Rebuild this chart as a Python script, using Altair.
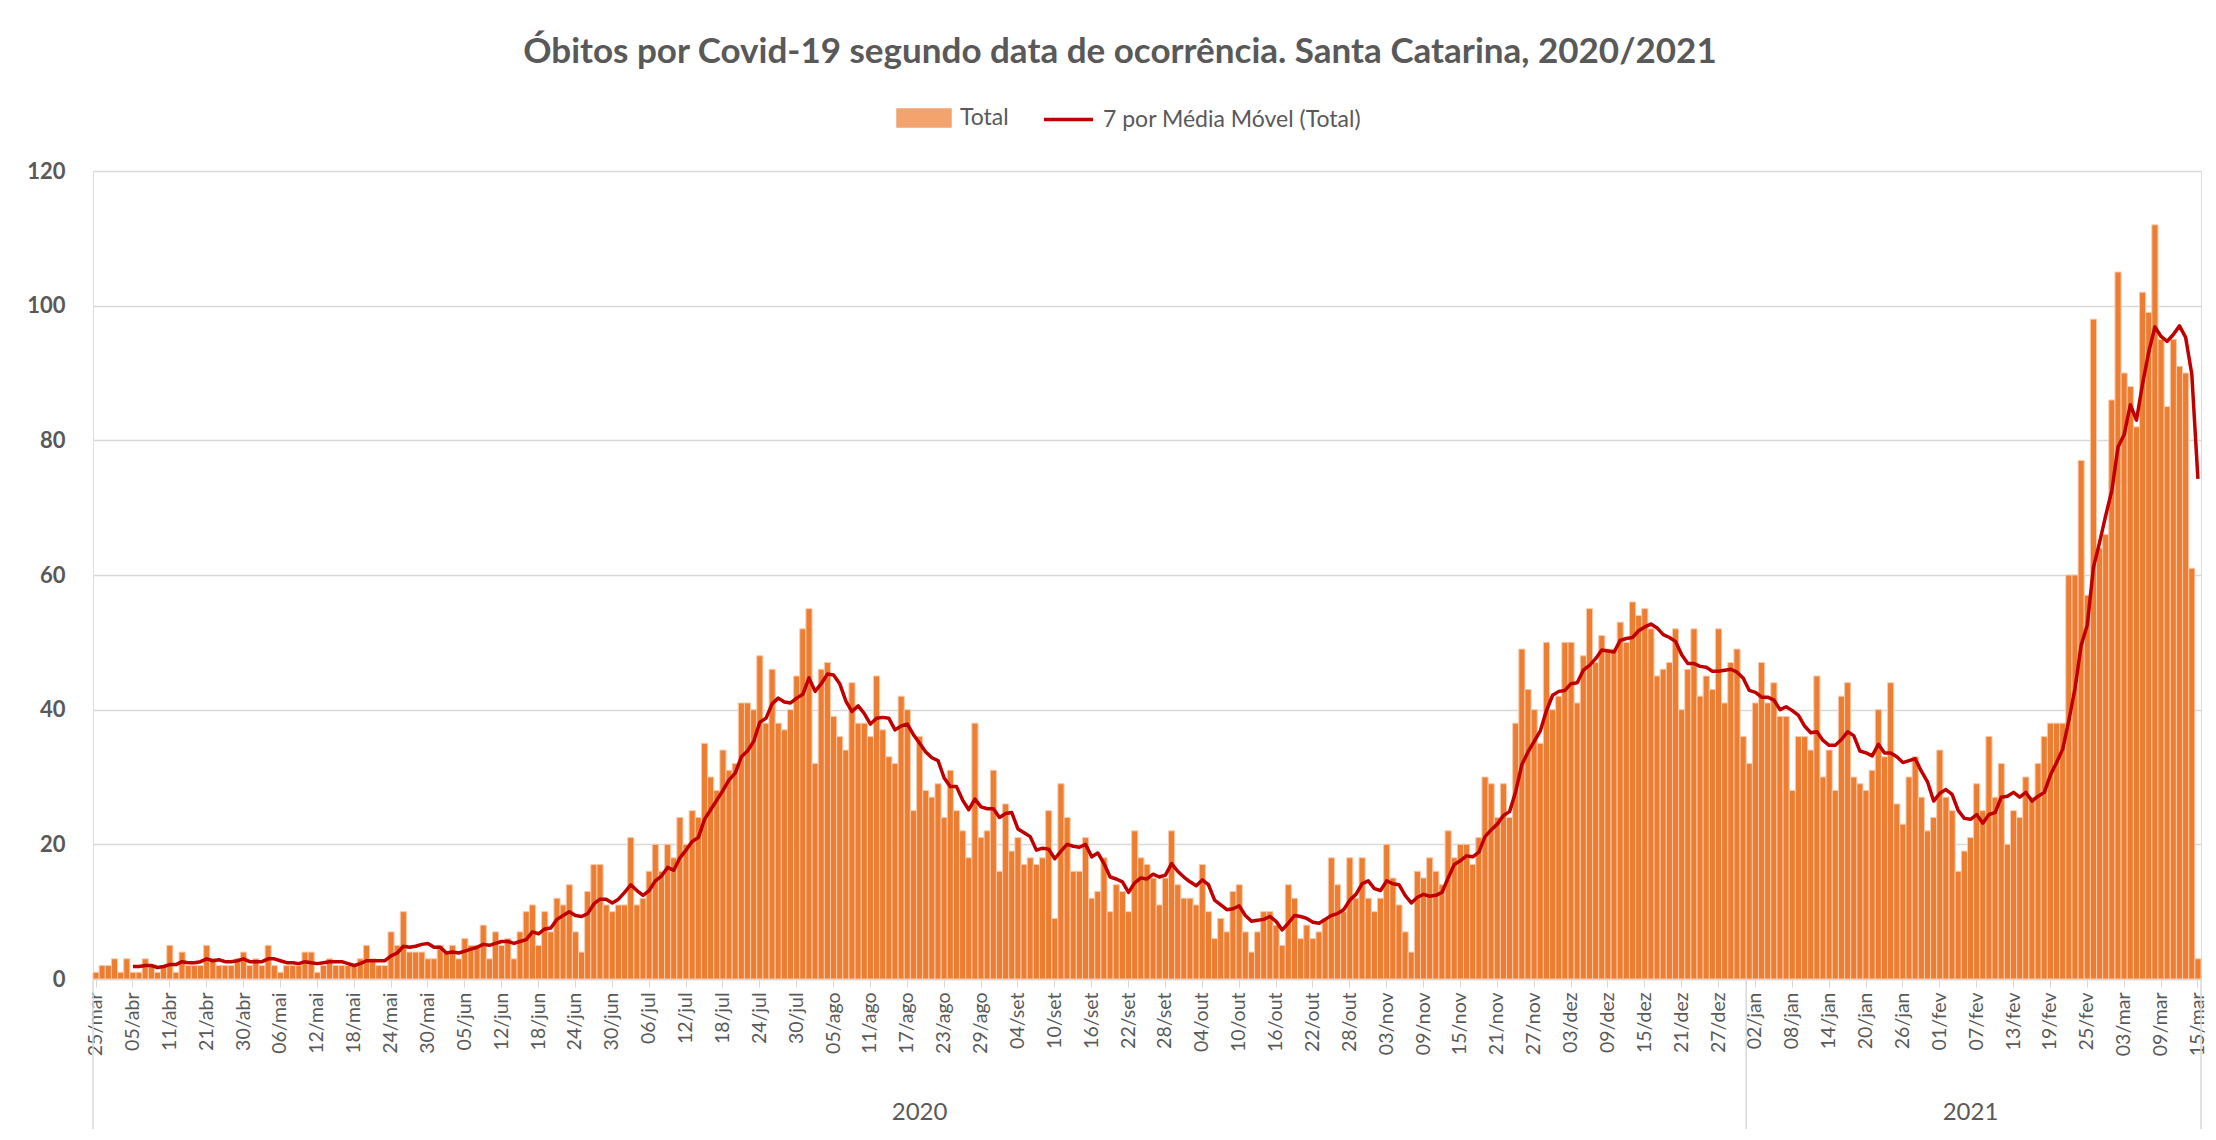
import altair as alt
import pandas as pd

MESES = ["jan", "fev", "mar", "abr", "mai", "jun", "jul", "ago", "set", "out", "nov", "dez"]
# dates absent from the category axis (no record)
dias_sem_registro = ["2020-03-26", "2020-03-28", "2020-03-30", "2020-04-01", "2020-04-03",
                     "2020-04-12", "2020-04-14", "2020-04-16", "2020-04-19",
                     "2020-04-22", "2020-04-25", "2020-04-28", "2020-06-07"]

total_mar_mai = [1, 2, 2, 3, 1, 3, 1, 1, 3, 2, 1, 2, 5, 1, 4, 2, 2, 2, 5, 3, 2, 2, 2, 3, 4, 2, 3, 2, 5,
                 2, 1, 2, 2, 2, 4, 4, 1, 2, 3, 2, 2, 2, 2, 3, 5, 3, 2, 2, 7, 5, 10, 4, 4, 4, 3, 3, 5, 4]
total_jun_jul = [5, 3, 6, 5, 5, 8, 3, 7, 5, 6, 3, 7, 10, 11, 5, 10, 7, 12, 11, 14, 7, 4, 13, 17, 17, 11, 10, 11,
                 11, 21, 11, 12, 16, 20, 16, 20, 18, 24, 20, 25, 24, 35, 30, 28, 34, 31, 32, 41, 41, 40, 48,
                 38, 46, 38, 37, 40, 45]
total_ago_set = [52, 55, 32, 46, 47, 39, 36, 34, 44, 38, 38, 36, 45, 37, 33, 32, 42, 40, 25, 36, 28, 27, 29,
                 24, 31, 25,
                 22, 18, 38, 21, 22, 31, 16, 26, 19, 21, 17, 18, 17, 18, 25, 9, 29, 24, 16, 16, 21, 12, 13,
                 18, 10, 14, 13, 10, 22, 18, 17]
total_out_nov = [15, 11, 15, 22, 14, 12, 12, 11, 17, 10, 6, 9, 7, 13, 14, 7, 4, 7, 10, 10, 8, 5, 14, 12, 6, 8,
                 6, 7,
                 9, 18, 14, 10, 18, 12, 18, 12, 10, 12, 20, 15, 11, 7, 4, 16, 15, 18, 16, 14, 22, 18, 20, 20,
                 17, 21, 30, 29]
total_nov_dez = [24, 29, 24, 38, 49, 43, 40, 35, 50, 40, 42, 50, 50, 41, 48, 55, 47, 51, 49, 49, 53, 50, 56,
                 54, 55, 52, 45, 46, 47,
                 52, 40, 46, 52, 42, 45, 43, 52, 41, 47, 49, 36, 32, 41, 47, 41, 44, 39, 39, 28, 36, 36, 34,
                 45, 30, 34, 28, 42]
total_jan_mar = [44, 30, 29, 28, 31, 40, 33, 44, 26, 23, 30, 33, 27, 22, 24, 34, 27, 25, 16, 19, 21, 29, 25,
                 36, 27, 32, 20, 25, 24,
                 30, 27, 32, 36, 38, 38, 38, 60, 60, 77, 57, 98, 64, 66, 86, 105, 90, 88, 82, 102, 99, 112,
                 95, 85, 95, 91, 90, 61, 3]

totais = total_mar_mai + total_jun_jul + total_ago_set + total_out_nov + total_nov_dez + total_jan_mar

datas = pd.date_range("2020-03-25", "2021-03-15", freq="D").difference(pd.to_datetime(dias_sem_registro))
labels = [f"{d.day:02d}/{MESES[d.month - 1]}" for d in datas]
anos = [str(d.year) for d in datas]
assert len(labels) == len(totais)

df = pd.DataFrame({"idx": list(range(len(labels))), "data": labels, "ano": anos, "Total": totais})

inicio_2021 = anos.index("2021")
anos_df = pd.DataFrame({"data": [labels[inicio_2021 // 2], labels[(inicio_2021 + len(labels)) // 2 - 1]],
                        "ano": ["2020", "2021"]})
sep_ini = pd.DataFrame({"data": [labels[0], labels[inicio_2021]]})
sep_fim = pd.DataFrame({"data": [labels[-1]]})

W, H = 2108, 808
FONT = "Lato"
GRAY = "#595959"
LINE_GRAY = "#D9D9D9"

xscale = alt.Scale(domain=labels, paddingInner=0, paddingOuter=0)
xaxis = alt.Axis(values=labels[::6], labelAngle=270, labelAlign="right", labelBaseline="middle",
                 labelFont=FONT, labelFontSize=19.5, labelColor=GRAY, labelOverlap=False, labelBound=False,
                 labelPadding=5, domainColor=LINE_GRAY, domainWidth=1.5, ticks=True, tickColor=LINE_GRAY,
                 tickSize=8, grid=False, title=None)
yscale = alt.Scale(domain=[0, 120])
yaxis = alt.Axis(values=[0, 20, 40, 60, 80, 100, 120], title=None, domain=False, ticks=False,
                 labelFont=FONT, labelFontSize=22, labelFontWeight="bold", labelColor=GRAY,
                 labelPadding=28, grid=True, gridColor=LINE_GRAY, gridWidth=1.5)


def X(**kw):
    return alt.X("data:O", scale=xscale, axis=xaxis, **kw)


bars = alt.Chart(df).transform_calculate(serie="'Total'").mark_bar(
    stroke="#F8CBAD", strokeWidth=1
).encode(
    x=X(),
    y=alt.Y("Total:Q", scale=yscale, axis=yaxis),
    fill=alt.Fill("serie:N", scale=alt.Scale(domain=["Total"], range=["#ED7D31"]),
                  legend=alt.Legend(title=None, orient="none", legendX=803, legendY=-81,
                                    symbolType="M-1,-0.33H1V0.33H-1Z", symbolSize=2916,
                                    symbolStrokeColor="#ED7D31", symbolOpacity=0.7,
                                    symbolStrokeWidth=1.5, labelFont=FONT, labelFontSize=23,
                                    labelColor=GRAY, labelOffset=8)),
)

linha = alt.Chart(df).transform_window(
    media="mean(Total)", frame=[-6, 0], sort=[alt.SortField("idx")]
).transform_filter("datum.idx >= 6").transform_calculate(
    serie2="'7 por Média Móvel (Total)'"
).mark_line(strokeWidth=3.5, strokeJoin="round").encode(
    x=X(),
    y=alt.Y("media:Q", scale=yscale, axis=yaxis),
    stroke=alt.Stroke("serie2:N", scale=alt.Scale(domain=["7 por Média Móvel (Total)"], range=["#C00000"]),
                      legend=alt.Legend(title=None, orient="none", legendX=949, legendY=-78,
                                        symbolType="stroke", symbolSize=2400, symbolStrokeWidth=3.5,
                                        labelFont=FONT, labelFontSize=23, labelColor=GRAY,
                                        labelOffset=8, labelLimit=500)),
)

sep1 = alt.Chart(sep_ini).mark_rule(color=LINE_GRAY, strokeWidth=1.5).encode(
    x=X(bandPosition=0), y=alt.value(H), y2=alt.value(H + 150))
sep2 = alt.Chart(sep_fim).mark_rule(color=LINE_GRAY, strokeWidth=1.5).encode(
    x=X(bandPosition=1), y=alt.value(H), y2=alt.value(H + 150))

anos_txt = alt.Chart(anos_df).mark_text(font=FONT, fontSize=24, color=GRAY, baseline="middle").encode(
    x=X(), y=alt.value(942), text="ano:N")

chart = alt.layer(bars, linha, sep1, sep2, anos_txt).properties(
    width=W, height=H,
    padding={"left": 85, "top": 163, "right": 7, "bottom": 153},
    autosize=alt.AutoSizeParams(type="none"),
    title=alt.Title("Óbitos por Covid-19 segundo data de ocorrência. Santa Catarina, 2020/2021",
                    font=FONT, fontSize=35, fontWeight="bold", color=GRAY, anchor="middle", dx=-27,
                    offset=20),
).configure_view(stroke=None).configure(background="white")

chart.save("out.html", embed_options={"renderer": "svg", "actions": False})
